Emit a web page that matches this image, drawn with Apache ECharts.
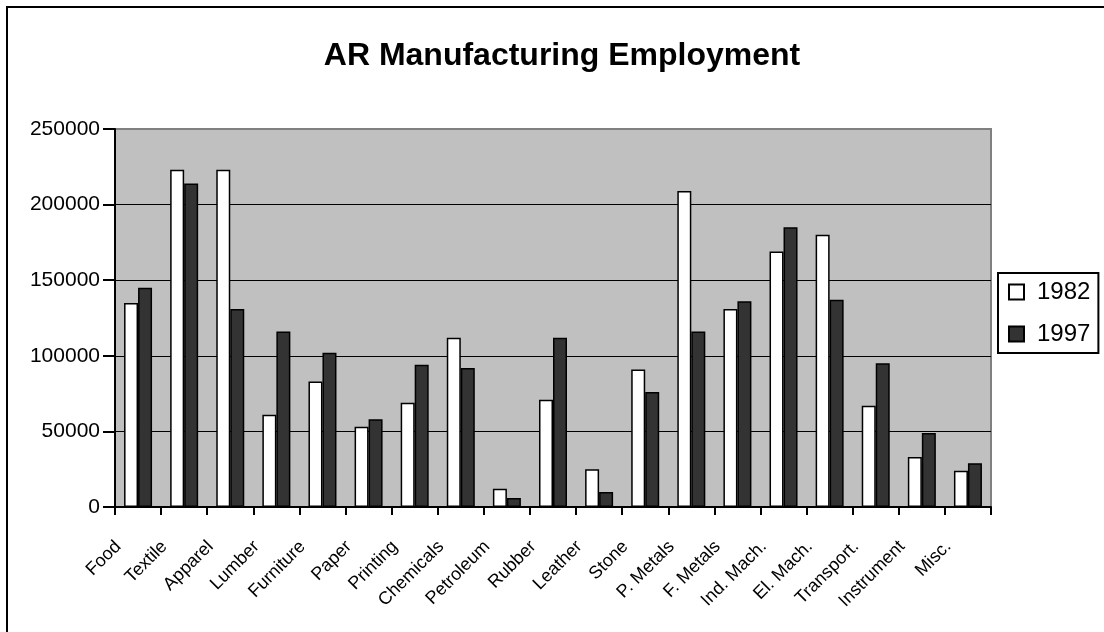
<!DOCTYPE html>
<html>
<head>
<meta charset="utf-8">
<script src="https://cdn.jsdelivr.net/npm/echarts@6/dist/echarts.min.js"></script>
<style>
  html, body { margin: 0; padding: 0; background: #ffffff; }
  #chart { width: 1104px; height: 632px; }
</style>
</head>
<body>
<div id="chart"></div>
<script>
// Manufacturing employment by industry, Arkansas, 1982 vs 1997
const categories = ['Food', 'Textile', 'Apparel', 'Lumber', 'Furniture', 'Paper', 'Printing',
  'Chemicals', 'Petroleum', 'Rubber', 'Leather', 'Stone', 'P. Metals', 'F. Metals',
  'Ind. Mach.', 'El. Mach.', 'Transport.', 'Instrument', 'Misc.'];
const values1982 = [135000, 223000, 223000, 61000, 83000, 53000, 69000, 112000, 12000, 71000,
  25000, 91000, 209000, 131000, 169000, 180000, 67000, 33000, 24000];
const values1997 = [145000, 214000, 131000, 116000, 102000, 58000, 94000, 92000, 6000, 112000,
  10000, 76000, 116000, 136000, 185000, 137000, 95000, 49000, 29000];
const yTicks = [0, 50000, 100000, 150000, 200000, 250000];

const FONT = "'Liberation Sans', Arial, sans-serif";

const chart = echarts.init(document.getElementById('chart'), null, { renderer: 'canvas' });

chart.setOption({
  animation: false,
  backgroundColor: '#ffffff',
  title: {
    text: 'AR Manufacturing Employment',
    left: 557,
    top: 35,
    textAlign: 'center',
    textStyle: { fontFamily: FONT, fontSize: 32, fontWeight: 'bold', color: '#000' }
  },
  legend: {
    orient: 'vertical',
    left: 998,
    top: 273,
    padding: [6, 8, 6, 10],
    itemGap: 16,
    itemWidth: 15,
    itemHeight: 15,
    borderColor: '#000',
    borderWidth: 2,
    backgroundColor: '#ffffff',
    icon: 'rect',
    textStyle: { fontFamily: FONT, fontSize: 24, color: '#000', padding: [0, 0, 0, 8], lineHeight: 26 },
    data: ['1982', '1997']
  },
  grid: {
    left: 115,
    top: 129,
    right: 113,
    bottom: 125,
    show: true,
    backgroundColor: '#c0c0c0',
    borderColor: '#808080',
    borderWidth: 2,
    containLabel: false
  },
  xAxis: {
    type: 'category',
    data: categories,
    axisLine: { lineStyle: { color: '#000', width: 2 } },
    axisTick: { show: true, length: 8, lineStyle: { color: '#000', width: 2 } },
    axisLabel: {
      interval: 0,
      rotate: 45,
      margin: 17,
      padding: [0, 28, 0, 0],
      fontFamily: FONT,
      fontSize: 18,
      color: '#000'
    },
    splitLine: { show: false }
  },
  yAxis: {
    type: 'value',
    min: yTicks[0],
    max: yTicks[yTicks.length - 1],
    interval: yTicks[1] - yTicks[0],
    axisLine: { show: true, lineStyle: { color: '#000', width: 2 } },
    axisTick: { show: true, length: 12, lineStyle: { color: '#000', width: 2 } },
    axisLabel: {
      margin: 15,
      fontFamily: FONT,
      fontSize: 21,
      color: '#000',
      formatter: v => String(v)
    },
    splitLine: {
      show: true,
      lineStyle: { color: ['#000', '#000', '#000', '#000', '#000', '#808080'], width: 1 }
    }
  },
  series: [
    {
      name: '1982',
      type: 'bar',
      data: values1982,
      barWidth: 14,
      barGap: '0%',
      itemStyle: { color: '#ffffff', borderColor: '#000', borderWidth: 1.5 }
    },
    {
      name: '1997',
      type: 'bar',
      data: values1997,
      barWidth: 14,
      barGap: '0%',
      itemStyle: { color: '#333333', borderColor: '#000', borderWidth: 1.5 }
    }
  ],
  graphic: [
    {
      type: 'rect',
      shape: { x: 7, y: 7, width: 1110, height: 640 },
      style: { fill: 'none', stroke: '#000', lineWidth: 2 },
      silent: true,
      z: 100
    }
  ]
});
</script>
</body>
</html>
